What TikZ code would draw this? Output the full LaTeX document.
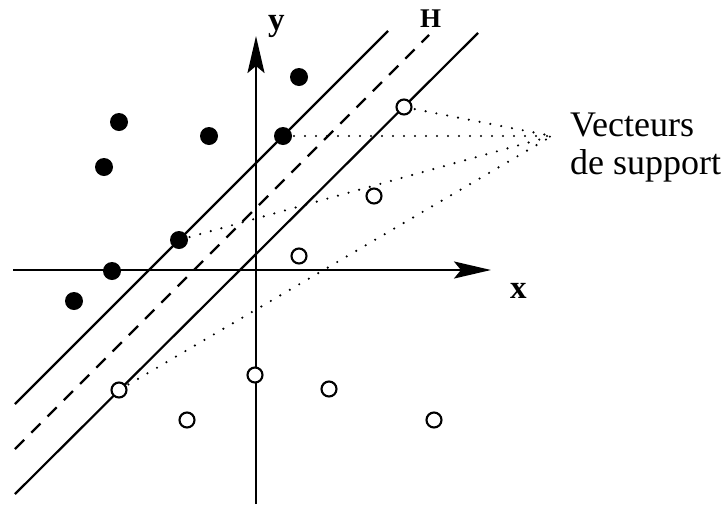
\documentclass[tikz,border=0pt]{standalone}
\usepackage{fontspec}
\setmainfont{Liberation Serif}
\usetikzlibrary{arrows.meta}
\tikzset{
  axisline/.style={line width=2.6pt, -{Stealth[length=37pt,width=17pt,inset=7pt]}},
  margin/.style={line width=2.2pt},
  hyper/.style={line width=2.2pt, dash pattern=on 13pt off 10pt},
  dotline/.style={line width=2.4pt, line cap=round, dash pattern=on 0pt off 11pt},
  fdot/.style={circle, fill=black, inner sep=0pt, minimum size=18pt},
  odot/.style={circle, draw=black, line width=2.1pt, fill=white, inner sep=0pt, minimum size=15pt},
  lbl/.style={inner sep=0pt, font=\fontsize{33}{36}\selectfont\bfseries},
}
\begin{document}
\begin{tikzpicture}[x=1pt,y=-1pt]
\useasboundingbox (0,0) rectangle (722,504);
% axes
\draw[axisline] (13,270) -- (491,270);
\draw[axisline] (256,504) -- (256,36);
\node[lbl, anchor=base west] (ylab) at (268,30) {y};
\node[lbl, anchor=base west] (xlab) at (510,298) {x};
% margins and hyperplane
\draw[margin] (15,404) -- (388,31);
\draw[margin] (15,494) -- (478,33);
\draw[hyper] (15,449) -- (429,35);
\node[inner sep=0pt, font=\fontsize{27}{28}\selectfont\bfseries, anchor=base west] (H) at (420,27) {H};
% label
\node[inner sep=0pt, anchor=north west, align=left, font=\fontsize{36}{38}\selectfont] (sv) at (570,113) {Vecteurs\\de support};
\coordinate (conv) at (552,136);
% dotted lines
\draw[dotline] (283,136) -- (conv);
\draw[dotline] (404,107) -- (conv);
\draw[dotline] (179,240) -- (conv);
\draw[dotline] (119,390) -- (conv);
% filled points
\node[fdot] (f1) at (299,77) {};
\node[fdot] (f2) at (119,122) {};
\node[fdot] (f3) at (209,136) {};
\node[fdot] (f4) at (283,136) {};
\node[fdot] (f5) at (104,167) {};
\node[fdot] (f6) at (179,240) {};
\node[fdot] (f7) at (112,271) {};
\node[fdot] (f8) at (74,301) {};
% open points
\node[odot] (o1) at (404,107) {};
\node[odot] (o2) at (374,196) {};
\node[odot] (o3) at (299,256) {};
\node[odot] (o4) at (255,375) {};
\node[odot] (o5) at (329,389) {};
\node[odot] (o6) at (187,420) {};
\node[odot] (o7) at (434,420) {};
\node[odot] (o8) at (119,390) {};
\end{tikzpicture}
\end{document}
